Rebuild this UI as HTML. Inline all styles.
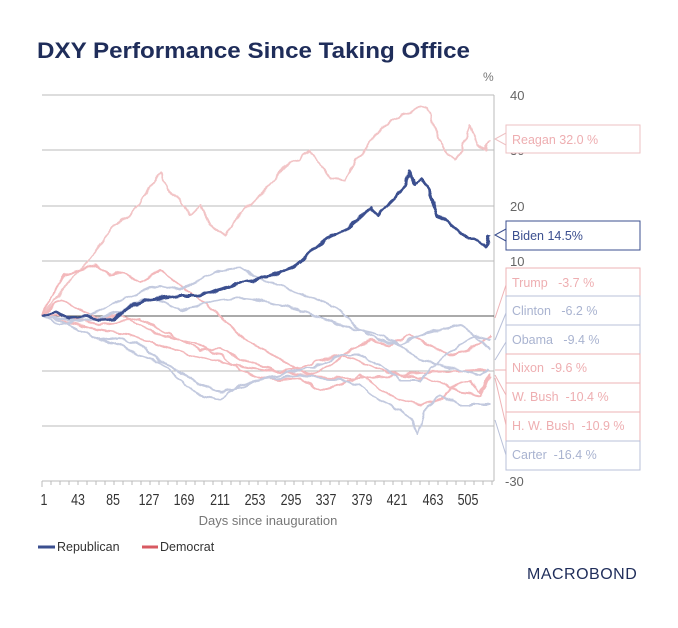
<!DOCTYPE html>
<html><head><meta charset="utf-8"><style>
body{margin:0;background:#fff;width:678px;height:623px;overflow:hidden;font-family:"Liberation Sans",sans-serif}
</style></head><body>
<svg width="678" height="623" viewBox="0 0 678 623" xmlns="http://www.w3.org/2000/svg" font-family="Liberation Sans, sans-serif">
<defs>
<filter id="jit" x="-5%" y="-5%" width="110%" height="110%">
<feTurbulence type="fractalNoise" baseFrequency="0.12" numOctaves="1" seed="3" result="n"/>
<feDisplacementMap in="SourceGraphic" in2="n" scale="6" xChannelSelector="R" yChannelSelector="G"/>
</filter>
</defs>
<text x="37" y="58" font-size="22" font-weight="bold" fill="#1f2d5a" textLength="433" lengthAdjust="spacingAndGlyphs">DXY Performance Since Taking Office</text>
<text x="483" y="81" font-size="12" fill="#777">%</text>
<g stroke="#bbb" stroke-width="1">
<line x1="42" y1="95" x2="494" y2="95"/><line x1="42" y1="150" x2="494" y2="150"/>
<line x1="42" y1="206" x2="494" y2="206"/><line x1="42" y1="261" x2="494" y2="261"/>
<line x1="42" y1="371" x2="494" y2="371"/><line x1="42" y1="426" x2="494" y2="426"/>
<line x1="494" y1="95" x2="494" y2="481"/>
<line x1="42" y1="481" x2="494" y2="481"/>
</g>
<line x1="42" y1="316" x2="494" y2="316" stroke="#555" stroke-width="1"/>
<g font-size="13" fill="#666">
<text x="510" y="100">40</text><text x="510" y="155">30</text><text x="510" y="211">20</text>
<text x="510" y="266">10</text><text x="505" y="486">-30</text>
</g>
<g fill="none" stroke-width="2" stroke-linejoin="round" filter="url(#jit)">
<polyline stroke="#f2c4c6" points="42,316 55,300 70,280 85,265 100,245 115,225 130,215 145,195 155,180 160,172 168,190 180,200 190,215 200,205 210,225 225,235 240,215 255,200 270,185 285,165 300,160 310,150 320,165 330,178 345,180 355,160 365,150 375,135 385,125 398,118 410,112 420,106 428,108 435,130 445,150 455,160 462,150 470,125 478,145 485,150 490,140"/>
<polyline stroke="#f3b8bb" points="42,316 55,290 65,275 80,270 95,265 110,275 125,272 140,282 160,270 180,285 200,300 225,320 245,340 265,350 290,365 310,375 330,365 350,350 370,340 390,345 410,335 430,345 450,355 470,350 490,336"/>
<polyline stroke="#f3b8bb" points="42,316 60,320 80,325 100,330 130,335 160,345 190,355 220,362 250,368 280,372 310,376 340,378 370,378 400,375 430,372 460,371 490,369"/>
<polyline stroke="#f3b8bb" points="42,316 60,315 80,320 100,325 120,322 140,318 160,330 180,340 200,345 220,355 240,370 260,378 280,380 300,378 320,390 340,385 360,375 380,390 400,400 420,405 440,400 455,385 470,380 480,392 490,373"/>
<polyline stroke="#f3b8bb" points="42,316 60,300 80,310 100,318 120,315 140,325 160,335 180,340 200,350 220,348 240,360 260,365 280,372 300,368 320,360 340,355 360,362 380,370 400,375 420,378 440,382 460,392 480,395 490,377"/>
<polyline stroke="#c3cadf" points="42,316 60,325 80,320 100,310 120,300 140,292 160,285 180,290 200,280 220,270 240,268 260,280 280,285 300,295 320,300 340,310 360,330 380,340 400,345 420,335 440,330 460,325 480,340 490,350"/>
<polyline stroke="#c3cadf" points="42,316 60,320 80,330 100,340 120,338 140,345 160,360 180,372 200,385 220,392 240,388 260,380 280,375 300,370 320,365 340,355 360,355 380,365 400,380 420,380 440,360 460,345 475,335 490,340"/>
<polyline stroke="#c3cadf" points="42,316 60,318 80,322 100,318 120,312 140,300 160,300 180,310 200,305 220,300 240,298 260,300 280,305 300,310 320,318 340,325 360,330 380,335 400,345 420,360 440,365 460,370 480,375 490,368"/>
<polyline stroke="#c3cadf" points="42,316 60,320 80,330 100,340 120,345 140,355 160,362 180,380 200,395 220,400 240,385 260,380 280,378 300,375 320,378 340,380 360,385 380,400 400,410 412,420 418,435 425,410 440,395 460,405 475,405 490,405"/>
</g>
<polyline fill="none" filter="url(#jit)" stroke="#3b4f8f" stroke-width="3" stroke-linejoin="round" points="42,316 55,312 70,318 85,316 100,320 114,319 125,310 135,304 149,300 165,298 180,296 195,296 211,292 225,288 240,282 256,280 270,276 280,272 291,268 300,262 315,248 327,238 340,232 350,226 362,215 370,208 378,215 388,205 398,195 405,185 410,172 415,185 420,180 427,185 432,200 437,215 445,220 452,225 460,232 468,238 475,238 481,245 487,247 490,236"/>
<g font-size="12.5" fill="#fff" stroke-width="1">
<rect x="506" y="125" width="134" height="28" stroke="#eec1c3"/>
<rect x="506" y="221" width="134" height="29" stroke="#3b4f8f"/>
<rect x="506" y="268" width="134" height="28" stroke="#eeb3b6"/>
<rect x="506" y="296" width="134" height="29" stroke="#b8c0d9"/>
<rect x="506" y="325" width="134" height="29" stroke="#b8c0d9"/>
<rect x="506" y="354" width="134" height="29" stroke="#eeb3b6"/>
<rect x="506" y="383" width="134" height="29" stroke="#eeb3b6"/>
<rect x="506" y="412" width="134" height="29" stroke="#eeb3b6"/>
<rect x="506" y="441" width="134" height="29" stroke="#b8c0d9"/>
</g>
<g fill="none" stroke-width="1">
<polyline stroke="#eec1c3" points="506,133 495,139 506,145"/>
<polyline stroke="#3b4f8f" points="506,229 495,235 506,241"/>
<line x1="506" y1="285" x2="495" y2="318" stroke="#eeb3b6"/>
<line x1="506" y1="313" x2="495" y2="340" stroke="#b8c0d9"/>
<line x1="506" y1="342" x2="495" y2="360" stroke="#b8c0d9"/>
<line x1="506" y1="370" x2="495" y2="370" stroke="#eeb3b6"/>
<line x1="506" y1="395" x2="495" y2="375" stroke="#eeb3b6"/>
<line x1="506" y1="425" x2="495" y2="378" stroke="#eeb3b6"/>
<line x1="506" y1="455" x2="495" y2="420" stroke="#b8c0d9"/>
</g>
<g font-size="12.5">
<text x="512" y="144" fill="#eeaeb1">Reagan 32.0 %</text>
<text x="512" y="240" fill="#3b4f8f">Biden 14.5%</text>
<text x="512" y="287" fill="#eeaeb1" xml:space="preserve">Trump   -3.7 %</text>
<text x="512" y="315" fill="#a9b3d0" xml:space="preserve">Clinton   -6.2 %</text>
<text x="512" y="344" fill="#a9b3d0" xml:space="preserve">Obama   -9.4 %</text>
<text x="512" y="372" fill="#eeaeb1" xml:space="preserve">Nixon  -9.6 %</text>
<text x="512" y="401" fill="#eeaeb1" xml:space="preserve">W. Bush  -10.4 %</text>
<text x="512" y="430" fill="#eeaeb1" xml:space="preserve">H. W. Bush  -10.9 %</text>
<text x="512" y="459" fill="#a9b3d0" xml:space="preserve">Carter  -16.4 %</text>
</g>
<path stroke="#bbb" d="M42,481v6M51,481v4M60,481v4M69,481v4M78,481v4M87,481v4M96,481v4M105,481v4M114,481v4M123,481v4M132,481v4M141,481v4M150,481v4M159,481v4M168,481v4M177,481v4M186,481v4M195,481v4M204,481v4M213,481v4M222,481v4M231,481v4M240,481v4M249,481v4M258,481v4M267,481v4M276,481v4M285,481v4M294,481v4M303,481v4M312,481v4M321,481v4M330,481v4M339,481v4M348,481v4M357,481v4M366,481v4M375,481v4M384,481v4M393,481v4M402,481v4M411,481v4M420,481v4M429,481v4M438,481v4M447,481v4M456,481v4M465,481v4M474,481v4M483,481v4M492,481v4"/>
<g font-size="16" fill="#333" text-anchor="middle">
<g transform="translate(44,505) scale(0.78,1)"><text>1</text></g>
<g transform="translate(78,505) scale(0.78,1)"><text>43</text></g>
<g transform="translate(113,505) scale(0.78,1)"><text>85</text></g>
<g transform="translate(149,505) scale(0.78,1)"><text>127</text></g>
<g transform="translate(184,505) scale(0.78,1)"><text>169</text></g>
<g transform="translate(220,505) scale(0.78,1)"><text>211</text></g>
<g transform="translate(255,505) scale(0.78,1)"><text>253</text></g>
<g transform="translate(291,505) scale(0.78,1)"><text>295</text></g>
<g transform="translate(326,505) scale(0.78,1)"><text>337</text></g>
<g transform="translate(362,505) scale(0.78,1)"><text>379</text></g>
<g transform="translate(397,505) scale(0.78,1)"><text>421</text></g>
<g transform="translate(433,505) scale(0.78,1)"><text>463</text></g>
<g transform="translate(468,505) scale(0.78,1)"><text>505</text></g>
</g>
<text x="268" y="525" font-size="13" fill="#777" text-anchor="middle">Days since inauguration</text>
<line x1="38" y1="547" x2="55" y2="547" stroke="#3b4f8f" stroke-width="3"/>
<text x="57" y="551" font-size="12.5" fill="#333">Republican</text>
<line x1="142" y1="547" x2="158" y2="547" stroke="#d85a62" stroke-width="3"/>
<text x="160" y="551" font-size="12.5" fill="#333">Democrat</text>
<text x="527" y="579" font-size="16" fill="#1f2d5a" letter-spacing="0.5">MACROBOND</text>
</svg>
</body></html>
